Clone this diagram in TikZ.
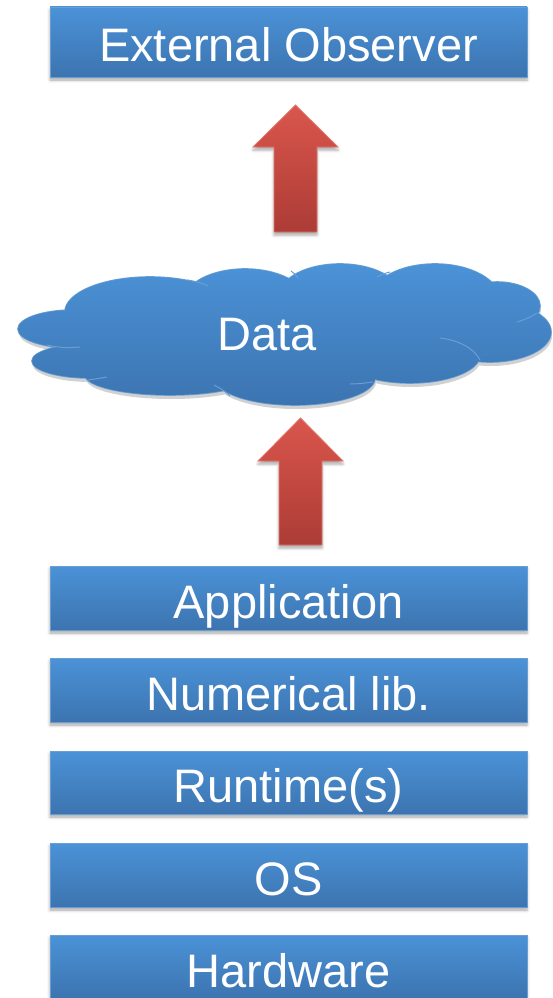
\documentclass[tikz,border=0pt]{standalone}
\usepackage{fontspec}
\setmainfont{Liberation Sans}
\usetikzlibrary{shadows.blur}
\definecolor{boxtop}{RGB}{75,146,215}
\definecolor{boxbot}{RGB}{60,116,176}
\definecolor{boxline}{RGB}{104,158,212}
\definecolor{arrtop}{RGB}{218,86,76}
\definecolor{arrbot}{RGB}{172,60,54}
\definecolor{arrline}{RGB}{226,118,108}
\newcommand\mycloudpath{%
  (74,329) ellipse [x radius=56pt, y radius=19pt]
  (90,361) ellipse [x radius=58pt, y radius=17pt]
  (150,312) ellipse [x radius=85pt, y radius=35pt]
  (170,375) ellipse [x radius=85pt, y radius=20pt]
  (295,378) ellipse [x radius=80pt, y radius=27pt]
  (245,300) ellipse [x radius=60pt, y radius=31pt]
  (340,295) ellipse [x radius=60pt, y radius=31pt]
  (435,300) ellipse [x radius=65pt, y radius=36pt]
  (497,306) ellipse [x radius=43pt, y radius=24pt]
  (490,332) ellipse [x radius=61pt, y radius=30pt]
  (410,355) ellipse [x radius=70pt, y radius=28pt]
  (280,335) ellipse [x radius=200pt, y radius=45pt]}
\begin{document}
\begin{tikzpicture}[x=1pt,y=-1pt,
  bigfont/.style={font=\fontsize{47}{56}\selectfont},
  layer/.style={rectangle, minimum width=477pt, minimum height=64pt, inner sep=0pt,
    top color=boxtop, bottom color=boxbot, draw=boxline, line width=0.8pt,
    text=white, bigfont, text height=40pt, text depth=0pt,
    blur shadow={shadow xshift=0pt, shadow yshift=-3pt, shadow blur radius=3pt, shadow opacity=35}},
  bigarrow/.style={top color=arrtop, bottom color=arrbot, draw=arrline, line width=0.8pt,
    blur shadow={shadow xshift=0pt, shadow yshift=-3pt, shadow blur radius=3pt, shadow opacity=35}},
  innerarc/.style={draw=boxline, line width=1pt}]
\useasboundingbox (0,0) rectangle (552,998);

% layered boxes
\node[layer, minimum height=70pt] (obs) at (288.5,42) {External Observer};
\node[layer] (app) at (288.5,598) {Application};
\node[layer] (num) at (288.5,690) {Numerical lib.};
\node[layer, minimum height=63pt] (run) at (288.5,782.5) {Runtime(s)};
\node[layer] (os) at (288.5,875) {OS};
\node[layer] (hw) at (288.5,967) {Hardware};

% cloud
\fill[black, opacity=0.18] [shift={(1,4)}] \mycloudpath;
\draw[boxline, line width=1.6pt] \mycloudpath;
\shade[top color=boxtop, bottom color=boxbot] \mycloudpath;
\draw[innerarc] (47,345) .. controls (60,348) and (70,348) .. (80,347);
\draw[innerarc] (88,380) .. controls (95,379) and (101,378) .. (107,377);
\draw[innerarc] (187,280) .. controls (195,281) and (202,283) .. (208,286);
\draw[innerarc] (214,385) .. controls (220,388) and (226,392) .. (230,396);
\draw[innerarc] (291,271) .. controls (294,273) and (296,275) .. (298,278);
\draw[innerarc] (377,277) .. controls (381,275) and (385,273) .. (390,272);
\draw[innerarc] (517,322) .. controls (524,320) and (531,317) .. (537,313);
\draw[innerarc] (440,338) .. controls (458,340) and (474,348) .. (480,360);
\draw[innerarc] (350,384) .. controls (358,384) and (366,383) .. (373,382);
\node[text=white, bigfont, text height=34pt, text depth=0pt, inner sep=0pt] (data) at (267.5,333.5) {Data};

% block arrows
\coordinate (a1tip) at (295.5,105);
\coordinate (a2tip) at (300.5,418);
\path[bigarrow] (274,232) -- (274,147) -- (253,147) -- (a1tip) -- (338,147) -- (317,147) -- (317,232) -- cycle;
\path[bigarrow] (279,545) -- (279,461) -- (258,461) -- (a2tip) -- (343,461) -- (322,461) -- (322,545) -- cycle;
\end{tikzpicture}
\end{document}
